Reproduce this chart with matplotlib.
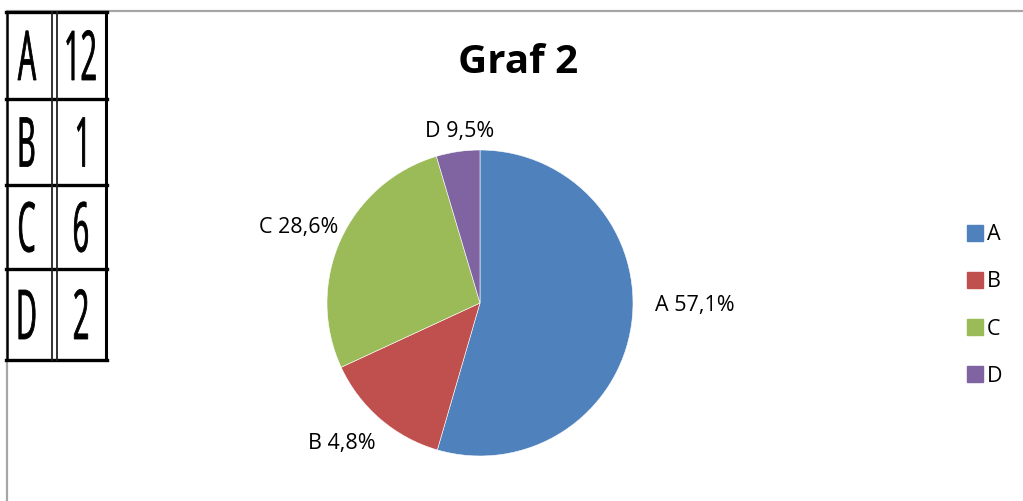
import matplotlib
matplotlib.use("Agg")
import matplotlib.pyplot as plt
from matplotlib.textpath import TextPath
from matplotlib.patches import PathPatch, Rectangle
from matplotlib.font_manager import FontProperties
from matplotlib.lines import Line2D
from matplotlib.transforms import Affine2D

# data table shown at the top left
table_names = ['A', 'B', 'C', 'D']
table_values = [12, 1, 6, 2]

# slice shares as drawn, and the label texts as printed
slice_shares = [54.5, 13.6, 27.3, 4.6]
slice_labels = ['A 57,1%', 'B 4,8%', 'C 28,6%', 'D 9,5%']
slice_colors = ['#4F81BD', '#C0504D', '#9BBB59', '#8064A2']

W, H = 1023, 501
fig = plt.figure(figsize=(W / 100, H / 100), dpi=100)
font = 'Open Sans'

# overlay in pixel coordinates (y down)
ov = fig.add_axes([0, 0, 1, 1])
ov.set_xlim(0, W)
ov.set_ylim(H, 0)
ov.axis('off')

# chart area border (partly hidden)
ov.plot([6, W + 5], [11, 11], color='#a6a6a6', lw=1.6, solid_capstyle='butt')
ov.plot([6.5, 6.5], [11, H + 5], color='#a6a6a6', lw=1.6, solid_capstyle='butt')

# pie
cx, cy, r = 480, 303, 153
pax = fig.add_axes([(cx - r) / W, (H - cy - r) / H, 2 * r / W, 2 * r / H])
pax.pie(slice_shares, colors=slice_colors, startangle=90, counterclock=False,
        wedgeprops=dict(edgecolor='white', linewidth=0.4))
pax.set_xlim(-1, 1)
pax.set_ylim(-1, 1)

# slice labels
label_pos = [(695, 305), (342, 444), (299, 228), (460, 131)]
for txt, (x, y) in zip(slice_labels, label_pos):
    ov.text(x, y, txt, fontsize=15.5, family=font, ha='center', va='center')

# title
ov.text(518, 62, 'Graf 2', fontsize=29, fontweight='bold', family=font,
        ha='center', va='center')

# legend
handles = [Line2D([], [], marker='s', ls='', markersize=11.5, color=c) for c in slice_colors]
fig.legend(handles, table_names, loc='center left', bbox_to_anchor=(956 / W, 1 - 305.5 / H),
           frameon=False, prop=FontProperties(family=font, size=15.5),
           handlelength=0.8, handletextpad=0.15, labelspacing=1.22, borderpad=0)

# table with condensed text
ov.add_patch(Rectangle((6, 12), 101, 349, facecolor='white', edgecolor='none', zorder=5))
row_lines = [12, 99, 185, 269, 360]
for yl in row_lines:
    ov.plot([6, 107], [yl, yl], color='black', lw=2.4, zorder=6, solid_capstyle='projecting')
ov.plot([6.5, 6.5], [12, 360], color='black', lw=1.8, zorder=6)
ov.plot([106, 106], [12, 360], color='black', lw=2.2, zorder=6)
ov.plot([51.5, 51.5], [12, 360], color='#222222', lw=1.3, zorder=6)
ov.plot([56.5, 56.5], [12, 360], color='#222222', lw=1.3, zorder=6)

fp = FontProperties(family='Open Sans')

def tall_text(s, xc, ymid, cap=49, sx=0.42):
    tp = TextPath((0, 0), s, size=1, prop=fp)
    ext = tp.get_extents()
    sy = cap / 0.714
    w = (ext.x1 - ext.x0) * sy * sx
    tr = Affine2D().translate(-ext.x0, 0).scale(sy * sx, -sy).translate(xc - w / 2, ymid + cap / 2)
    ov.add_patch(PathPatch(tr.transform_path(tp), facecolor='black', edgecolor='black',
                           lw=0.6, zorder=7))

for i, (nm, v) in enumerate(zip(table_names, table_values)):
    ymid = (row_lines[i] + row_lines[i + 1]) / 2
    tall_text(nm, 27, ymid)
    tall_text(str(v), 81, ymid)

fig.savefig('out.png', dpi=100)
